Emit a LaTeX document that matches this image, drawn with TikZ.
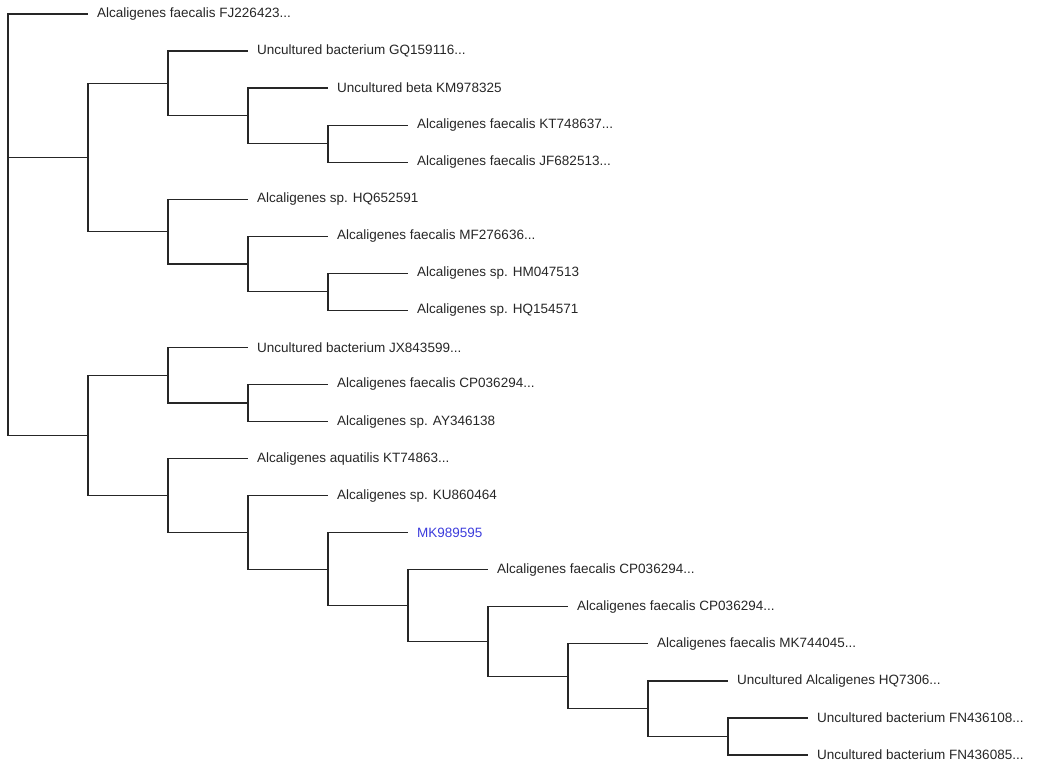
\documentclass[tikz,border=0pt]{standalone}
\usepackage{fontspec}
\setmainfont{Liberation Sans}
\begin{document}
\begin{tikzpicture}[x=1pt,y=-1pt,
  leaf/.style={anchor=west,inner sep=0pt,font=\fontsize{13.5}{15}\selectfont,text=black!85},
  hilite/.style={leaf,text={rgb,255:red,60;green,60;blue,220}},
  br/.style={draw=black!85,line width=1.2pt},
  tip/.style={br,shorten >=9pt}]
\useasboundingbox (0,0) rectangle (1037,765);
% internal nodes
\coordinate (r)  at (8,157.57);
\coordinate (c1) at (88,157.57);
\coordinate (c2) at (88,435.37);
\coordinate (d1) at (168,83.47);
\coordinate (d2) at (168,231.67);
\coordinate (d3) at (168,375.24);
\coordinate (d4) at (168,495.5);
\coordinate (e1) at (248,115.89);
\coordinate (e2) at (248,264.09);
\coordinate (e3) at (248,403.03);
\coordinate (e4) at (248,532.41);
\coordinate (f1) at (328,143.675);
\coordinate (f2) at (328,291.875);
\coordinate (f4) at (328,569.17);
\coordinate (g)  at (408,605.64);
\coordinate (h)  at (488,641.53);
\coordinate (i)  at (568,676.27);
\coordinate (j)  at (648,708.69);
\coordinate (k)  at (728,736.48);
% leaves
\node[leaf] (l1)  at (97,14)     {Alcaligenes faecalis FJ226423...};
\node[leaf] (l2)  at (257,51.05) {Uncultured bacterium GQ159116...};
\node[leaf] (l3)  at (337,88.1)  {Uncultured beta KM978325};
\node[leaf] (l4)  at (417,125.15) {Alcaligenes faecalis KT748637...};
\node[leaf] (l5)  at (417,162.2) {Alcaligenes faecalis JF682513...};
\node[leaf] (l6)  at (257,199.25) {Alcaligenes sp. HQ652591};
\node[leaf] (l7)  at (337,236.3) {Alcaligenes faecalis MF276636...};
\node[leaf] (l8)  at (417,273.35) {Alcaligenes sp. HM047513};
\node[leaf] (l9)  at (417,310.4) {Alcaligenes sp. HQ154571};
\node[leaf] (l10) at (257,347.45) {Uncultured bacterium JX843599...};
\node[leaf] (l11) at (337,384.5) {Alcaligenes faecalis CP036294...};
\node[leaf] (l12) at (337,421.55) {Alcaligenes sp. AY346138};
\node[leaf] (l13) at (257,458.6) {Alcaligenes aquatilis KT74863...};
\node[leaf] (l14) at (337,495.65) {Alcaligenes sp. KU860464};
\node[hilite] (l15) at (417,532.7) {MK989595};
\node[leaf] (l16) at (497,569.75) {Alcaligenes faecalis CP036294...};
\node[leaf] (l17) at (577,606.8) {Alcaligenes faecalis CP036294...};
\node[leaf] (l18) at (657,643.85) {Alcaligenes faecalis MK744045...};
\node[leaf] (l19) at (737,680.9) {Uncultured Alcaligenes HQ7306...};
\node[leaf] (l20) at (817,717.95) {Uncultured bacterium FN436108...};
\node[leaf] (l21) at (817,755) {Uncultured bacterium FN436085...};
% branches
\draw[tip] (r) |- (l1.west);
\draw[br] (r) |- (c1);
\draw[br] (r) |- (c2);
\draw[br] (c1) |- (d1);
\draw[br] (c1) |- (d2);
\draw[br] (c2) |- (d3);
\draw[br] (c2) |- (d4);
\draw[tip] (d1) |- (l2.west);
\draw[br] (d1) |- (e1);
\draw[tip] (e1) |- (l3.west);
\draw[br] (e1) |- (f1);
\draw[tip] (f1) |- (l4.west);
\draw[tip] (f1) |- (l5.west);
\draw[tip] (d2) |- (l6.west);
\draw[br] (d2) |- (e2);
\draw[tip] (e2) |- (l7.west);
\draw[br] (e2) |- (f2);
\draw[tip] (f2) |- (l8.west);
\draw[tip] (f2) |- (l9.west);
\draw[tip] (d3) |- (l10.west);
\draw[br] (d3) |- (e3);
\draw[tip] (e3) |- (l11.west);
\draw[tip] (e3) |- (l12.west);
\draw[tip] (d4) |- (l13.west);
\draw[br] (d4) |- (e4);
\draw[tip] (e4) |- (l14.west);
\draw[br] (e4) |- (f4);
\draw[tip] (f4) |- (l15.west);
\draw[br] (f4) |- (g);
\draw[tip] (g) |- (l16.west);
\draw[br] (g) |- (h);
\draw[tip] (h) |- (l17.west);
\draw[br] (h) |- (i);
\draw[tip] (i) |- (l18.west);
\draw[br] (i) |- (j);
\draw[tip] (j) |- (l19.west);
\draw[br] (j) |- (k);
\draw[tip] (k) |- (l20.west);
\draw[tip] (k) |- (l21.west);
\end{tikzpicture}
\end{document}
